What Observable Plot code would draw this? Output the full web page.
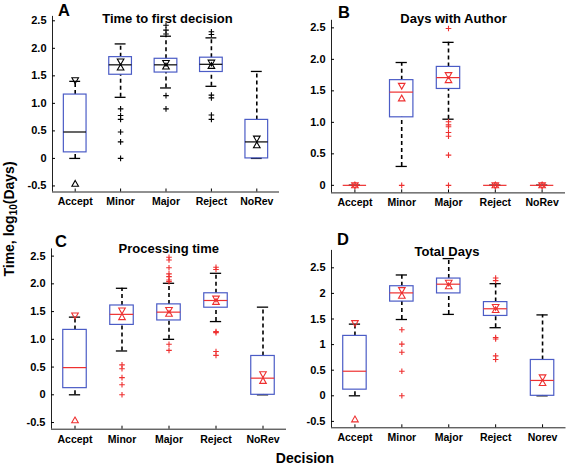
<!DOCTYPE html>
<html><head><meta charset="utf-8">
<script src="https://cdn.jsdelivr.net/npm/d3@7"></script>
<script src="https://cdn.jsdelivr.net/npm/@observablehq/plot@0.6"></script>
<style>
body{margin:0;background:#fff}
#wrap{position:relative;width:568px;height:467px;overflow:hidden;background:#fff}
#wrap > svg{position:absolute}
</style></head><body><div id="wrap"></div>
<script>
// ---------- data ----------
const categories = ["Accept","Minor","Major","Reject","NoRev"];
const categoriesD = ["Accept","Minor","Major","Reject","Norev"];
const panelTitles = ["Time to first decision","Days with Author","Processing time","Total Days"];
const panelLetters = ["A","B","C","D"];

const yTicksA = [-0.5,0,0.5,1,1.5,2,2.5];
const yTickLabelsA = ["-0.5","0","0.5","1.0","1.5","2.0","2.5"];
const yTicksB = [0,0.5,1,1.5,2,2.5];
const yTickLabelsB = ["0","0.5","1.0","1.5","2.0","2.5"];
const yTicksC = [-0.5,0,0.5,1,1.5,2,2.5];
const yTickLabelsC = ["-0.5","0","0.5","1.0","1.5","2.0","2.5"];
const yTicksD = [-0.5,0,0.5,1,1.5,2,2.5];
const yTickLabelsD = ["-0.5","0","0.5","1","1.5","2","2.5"];

// Panel A: Time to first decision
const q1A = [0.11, 1.52, 1.56, 1.57, 0];
const q3A = [1.16, 1.84, 1.81, 1.83, 0.70];
const medA = [0.48, 1.70, 1.70, 1.71, 0.30];
const whiskLoA = [0, 1.11, 1.28, 1.31, 0];
const whiskHiA = [1.40, 2.08, 2.22, 2.19, 1.58];
const notchLoA = [-0.46, 1.65, 1.67, 1.68, 0.24];
const notchHiA = [1.42, 1.76, 1.735, 1.74, 0.36];
const outliersA = [[], [0.90, 0.78, 0.71, 0.48, 0.30, 0], [2.42, 2.33, 2.26, 1.14, 0.90], [2.30, 2.25, 1.15, 1.10, 0.79, 0.71], []];

// Panel B: Days with Author
const q1B = [0, 1.08, 1.53, 0, 0];
const q3B = [0, 1.67, 1.88, 0, 0];
const medB = [0, 1.48, 1.71, 0, 0];
const whiskLoB = [0, 0.30, 1.05, 0, 0];
const whiskHiB = [0, 1.95, 2.27, 0, 0];
const notchLoB = [0, 1.38, 1.67, 0, 0];
const notchHiB = [0, 1.58, 1.75, 0, 0];
const outliersB = [[], [0], [2.49, 1.01, 0.96, 0.93, 0.84, 0.78, 0.48, 0], [], []];

// Panel C: Processing time
const q1C = [0.12, 1.26, 1.34, 1.57, 0];
const q3C = [1.17, 1.61, 1.63, 1.83, 0.70];
const medC = [0.49, 1.45, 1.49, 1.70, 0.30];
const whiskLoC = [0, 0.79, 1.00, 1.32, 0];
const whiskHiC = [1.40, 1.92, 2.01, 2.19, 1.58];
const notchLoC = [-0.46, 1.40, 1.46, 1.675, 0.25];
const notchHiC = [1.43, 1.52, 1.53, 1.735, 0.37];
const outliersC = [[], [0.54, 0.47, 0.31, 0.18, 0], [2.48, 2.43, 2.29, 2.18, 2.13, 2.07, 2.04, 0.91, 0.80], [2.30, 2.26, 1.14, 1.12, 0.78, 0.71], []];

// Panel D: Total Days
const q1D = [0.12, 1.84, 2.00, 1.56, 0];
const q3D = [1.17, 2.14, 2.29, 1.83, 0.70];
const medD = [0.48, 2.01, 2.18, 1.70, 0.30];
const whiskLoD = [0, 1.49, 1.59, 1.33, 0];
const whiskHiD = [1.40, 2.36, 2.68, 2.19, 1.58];
const notchLoD = [-0.46, 1.955, 2.14, 1.675, 0.25];
const notchHiD = [1.42, 2.065, 2.21, 1.735, 0.36];
const outliersD = [[], [1.29, 1.01, 0.85, 0.48, 0], [], [2.30, 2.25, 1.14, 1.11, 0.78, 0.71], []];

// ---------- drawing ----------
const BLUE = "#4b5cc6", RED = "#ee3030", FONT = "'Liberation Sans', Arial, sans-serif";
const triUp = {draw(ctx, size){ const r = Math.sqrt(size/Math.PI); ctx.moveTo(0,-r); ctx.lineTo(r,r*0.75); ctx.lineTo(-r,r*0.75); ctx.closePath(); }};
const triDown = {draw(ctx, size){ const r = Math.sqrt(size/Math.PI); ctx.moveTo(0,r); ctx.lineTo(r,-r*0.75); ctx.lineTo(-r,-r*0.75); ctx.closePath(); }};
const plusSym = {draw(ctx, size){ const r = Math.sqrt(size/Math.PI); ctx.moveTo(-r,0); ctx.lineTo(r,0); ctx.moveTo(0,-r); ctx.lineTo(0,r); }};

function panel(o) {
  const rows = o.cats.map((c,i)=>({p:i+1, q1:o.q1[i], q3:o.q3[i], med:o.med[i], lo:o.lo[i], hi:o.hi[i], nlo:o.nlo[i], nhi:o.nhi[i]}));
  const outs = o.outliers.flatMap((arr,i)=>arr.map(v=>({p:i+1, v})));
  const labelMap = new Map(o.yTicks.map((t,i)=>[t, o.yLabels[i]]));
  const hw = 0.25, cw = 0.12;
  const svg = Plot.plot({
    width: o.width, height: o.height,
    marginLeft: o.mL, marginRight: o.mR, marginTop: o.mT, marginBottom: o.mB,
    x: {type: "linear", domain: [0.5, 5.5]},
    y: {domain: o.yDomain},
    style: {background: "transparent", fontFamily: FONT, fontWeight: "bold", fontSize: "11px", color: "#000", overflow: "visible"},
    marks: [
      Plot.ruleX(rows, {x: "p", y1: "q3", y2: "hi", stroke: "#000", strokeWidth: 1.6, strokeDasharray: "4,3"}),
      Plot.ruleX(rows, {x: "p", y1: "lo", y2: "q1", stroke: "#000", strokeWidth: 1.6, strokeDasharray: "4,3"}),
      Plot.ruleY(rows, {y: "hi", x1: d=>d.p-cw, x2: d=>d.p+cw, stroke: "#000", strokeWidth: 1.3}),
      Plot.ruleY(rows, {y: "lo", x1: d=>d.p-cw, x2: d=>d.p+cw, stroke: "#000", strokeWidth: 1.3}),
      Plot.rect(rows, {x1: d=>d.p-hw, x2: d=>d.p+hw, y1: "q1", y2: "q3", fill: "none", stroke: BLUE, strokeWidth: 1.2}),
      Plot.ruleY(rows, {y: "med", x1: d=>d.p-hw, x2: d=>d.p+hw, stroke: o.accent, strokeWidth: 1.2}),
      Plot.dot(rows, {x: "p", y: "nhi", symbol: triDown, r: 3.3, fill: "none", stroke: o.accent, strokeWidth: 1.1}),
      Plot.dot(rows, {x: "p", y: "nlo", symbol: triUp, r: 3.3, fill: "none", stroke: o.accent, strokeWidth: 1.1}),
      Plot.dot(outs, {x: "p", y: "v", symbol: plusSym, r: 2.8, fill: "none", stroke: o.accent, strokeWidth: 1.1}),
      Plot.ruleX([0.5], {stroke: "#222", strokeWidth: 1}),
      Plot.ruleY([o.yDomain[0]], {stroke: "#222", strokeWidth: 1}),
      Plot.axisY({ticks: o.yTicks, tickFormat: d=>labelMap.get(d), tickSize: -3, tickPadding: 9, label: null}),
      Plot.axisX({ticks: [1,2,3,4,5], tickFormat: d=>o.cats[d-1], tickSize: -3, tickPadding: 9, label: null, fontSize: 10.5})
    ]
  });
  svg.style.left = o.left + "px";
  svg.style.top = o.top + "px";
  return svg;
}

const wrap = document.getElementById("wrap");
wrap.appendChild(panel({cats: categories, q1: q1A, q3: q3A, med: medA, lo: whiskLoA, hi: whiskHiA, nlo: notchLoA, nhi: notchHiA, outliers: outliersA,
  yTicks: yTicksA, yLabels: yTickLabelsA, yDomain: [-0.61, 2.58], accent: "#000",
  left: 0, top: 0, width: 284, height: 225, mL: 52, mR: 5, mT: 15.9, mB: 33.5}));
wrap.appendChild(panel({cats: categories, q1: q1B, q3: q3B, med: medB, lo: whiskLoB, hi: whiskHiB, nlo: notchLoB, nhi: notchHiB, outliers: outliersB,
  yTicks: yTicksB, yLabels: yTickLabelsB, yDomain: [-0.12, 2.62], accent: RED,
  left: 284, top: 0, width: 284, height: 225, mL: 47, mR: 3, mT: 19.8, mB: 32.6}));
wrap.appendChild(panel({cats: categories, q1: q1C, q3: q3C, med: medC, lo: whiskLoC, hi: whiskHiC, nlo: notchLoC, nhi: notchHiC, outliers: outliersC,
  yTicks: yTicksC, yLabels: yTickLabelsC, yDomain: [-0.62, 2.63], accent: RED,
  left: 0, top: 225, width: 290, height: 242, mL: 51, mR: 4, mT: 23.4, mB: 38.3}));
wrap.appendChild(panel({cats: categoriesD, q1: q1D, q3: q3D, med: medD, lo: whiskLoD, hi: whiskHiD, nlo: notchLoD, nhi: notchHiD, outliers: outliersD,
  yTicks: yTicksD, yLabels: yTickLabelsD, yDomain: [-0.625, 2.84], accent: RED,
  left: 284, top: 225, width: 284, height: 242, mL: 47, mR: 2.5, mT: 24.9, mB: 39.7}));

// ---------- titles and labels ----------
const ov = d3.create("svg").attr("width", 568).attr("height", 467)
  .style("left", "0px").style("top", "0px").style("pointer-events", "none")
  .attr("font-family", FONT).attr("font-weight", "bold").attr("fill", "#000");
const letterPos = [[58, 16], [338, 17.5], [55, 247], [337, 245]];
panelLetters.forEach((t,i)=> ov.append("text").attr("x", letterPos[i][0]).attr("y", letterPos[i][1]).attr("font-size", 16.5).text(t));
const titlePos = [[167.5, 22.5], [453.5, 22.5], [168.8, 252.6], [447, 256]];
panelTitles.forEach((t,i)=> ov.append("text").attr("x", titlePos[i][0]).attr("y", titlePos[i][1]).attr("text-anchor", "middle").attr("font-size", 13).text(t));
const yl = ov.append("text").attr("transform", "translate(13.5,219) rotate(-90)").attr("text-anchor", "middle").attr("font-size", 14);
yl.append("tspan").text("Time, log");
yl.append("tspan").attr("font-size", 10).attr("dy", 3).text("10");
yl.append("tspan").attr("dy", -3).text("(Days)");
ov.append("text").attr("x", 305).attr("y", 463).attr("text-anchor", "middle").attr("font-size", 14).text("Decision");
wrap.appendChild(ov.node());
</script>
</body></html>
